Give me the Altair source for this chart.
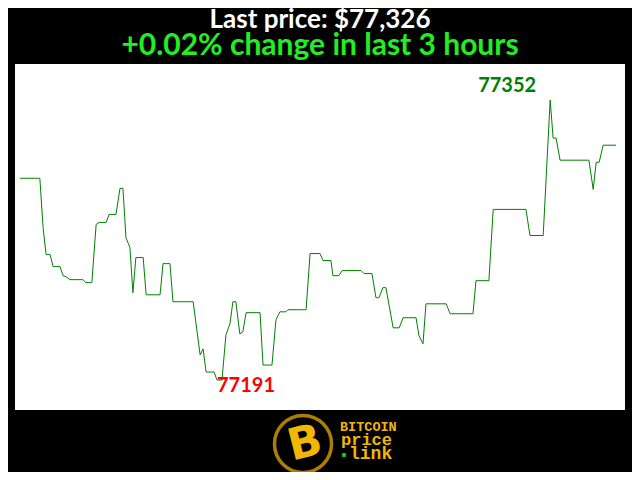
import altair as alt
import pandas as pd

# minutes since start of the 3-hour window
minutes = [0.0, 6.0, 7.0, 7.9, 9.1, 10.0, 12.1, 13.0, 13.9, 15.1,
           19.0, 19.9, 21.7, 23.0, 23.9, 26.0, 26.9, 29.0, 30.2, 31.1,
           32.0, 33.2, 34.1, 35.0, 37.2, 38.1, 42.3, 43.2, 45.3, 46.2,
           52.3, 54.4, 55.3, 56.2, 58.6, 59.5, 61.0, 62.2, 63.4, 64.3,
           65.2, 66.4, 67.3, 68.3, 72.5, 73.4, 76.1, 77.3, 78.5, 80.3,
           80.9, 86.4, 87.6, 90.6, 91.5, 93.9, 94.5, 96.3, 97.3, 103.0,
           103.9, 106.3, 107.5, 108.4, 109.6, 110.5, 112.7, 114.5, 115.7, 119.6,
           120.5, 121.7, 122.6, 128.7, 129.9, 136.8, 137.7, 141.6, 142.9, 152.8,
           154.0, 158.0, 160.1, 161.0, 161.9, 163.1, 171.8, 173.1, 174.0, 174.9,
           176.1, 180.0]

prices = [77307.0, 77307.0, 77278.1, 77263.1, 77263.1, 77256.2, 77256.2, 77251.0, 77250.4, 77248.7,
          77248.7, 77247.0, 77247.0, 77280.4, 77281.6, 77281.6, 77286.2, 77286.2, 77301.2, 77301.2,
          77272.9, 77267.2, 77241.2, 77261.4, 77261.4, 77240.0, 77240.0, 77257.9, 77257.9, 77236.0,
          77236.0, 77205.4, 77208.9, 77195.6, 77195.6, 77191.0, 77191.0, 77217.0, 77223.3, 77236.0,
          77236.0, 77217.5, 77218.7, 77229.7, 77229.7, 77199.6, 77199.6, 77225.6, 77230.2, 77230.2,
          77231.4, 77231.4, 77263.7, 77263.7, 77259.7, 77259.7, 77251.0, 77251.0, 77253.9, 77253.9,
          77252.2, 77252.2, 77238.3, 77238.3, 77244.1, 77244.1, 77221.0, 77221.0, 77226.8, 77226.8,
          77216.4, 77211.8, 77234.8, 77234.8, 77229.1, 77229.1, 77248.1, 77248.1, 77289.1, 77289.1,
          77274.1, 77274.1, 77352.0, 77330.1, 77330.1, 77317.4, 77317.4, 77300.6, 77316.2, 77316.2,
          77326.0, 77326.0]

title_text = "Last price: $77,326"
subtitle_text = "+0.02% change in last 3 hours"

df = pd.DataFrame({"t": minutes, "price": prices})
imax = df["price"].idxmax()
imin = df["price"].idxmin()
hi = df.loc[[imax]].assign(label=lambda d: d["price"].round().astype(int).astype(str))
lo = df.loc[[imin]].assign(label=lambda d: d["price"].round().astype(int).astype(str))

xs = alt.X("t:Q", axis=None, scale=alt.Scale(domain=[-1.5, 182.7], nice=False, zero=False))
ys = alt.Y("price:Q", axis=None, scale=alt.Scale(domain=[77173.75, 77372.7], nice=False, zero=False))

line = alt.Chart(df).mark_line(color="#008000", strokeWidth=1, interpolate="linear").encode(x=xs, y=ys)

hi_text = alt.Chart(hi).mark_text(
    font="Lato", fontWeight="bold", fontSize=20, color="#008000",
    align="right", baseline="alphabetic", dx=-14, dy=-8
).encode(x=xs, y=ys, text="label:N")

lo_text = alt.Chart(lo).mark_text(
    font="Lato", fontWeight="bold", fontSize=20, color="#ff0000",
    align="left", baseline="alphabetic", dx=0, dy=12
).encode(x=xs, y=ys, text="label:N")

one = pd.DataFrame({"k": [0]})
gold = "#f2b705"
ring = alt.Chart(one).mark_point(shape="circle", filled=False, size=3250, strokeWidth=3.5, color=gold).encode(
    x=alt.value(288), y=alt.value(380))
bglyph = alt.Chart(one).mark_text(text="B", font="DejaVu Sans", fontWeight="bold", fontSize=44, color=gold,
                                  angle=346, align="center", baseline="middle").encode(
    x=alt.value(290), y=alt.value(380))
t1 = alt.Chart(one).mark_text(text="BITCOIN", font="Liberation Mono", fontWeight="bold", fontSize=13.5,
                              color=gold, align="left", baseline="alphabetic").encode(
    x=alt.value(325), y=alt.value(367))
t2 = alt.Chart(one).mark_text(text="price", font="Liberation Mono", fontWeight="bold", fontSize=17,
                              color=gold, align="left", baseline="alphabetic").encode(
    x=alt.value(326), y=alt.value(381))
t3 = alt.Chart(one).mark_text(text="link", font="Liberation Mono", fontWeight="bold", fontSize=18,
                              color=gold, align="left", baseline="alphabetic").encode(
    x=alt.value(334), y=alt.value(395))
dot = alt.Chart(one).mark_square(size=14, color="#22cc22", opacity=1).encode(
    x=alt.value(329), y=alt.value(391))

chart = alt.layer(line, hi_text, lo_text, ring, bglyph, t1, t2, t3, dot).properties(
    width=610, height=346,
    padding={"left": 7, "top": 56, "right": 7, "bottom": 62},
    autosize=alt.AutoSizeParams(type="none"),
    background="#000000",
    title=alt.TitleParams(
        text=title_text, subtitle=subtitle_text,
        font="Lato", fontWeight="bold", fontSize=26, color="#ffffff",
        subtitleFont="Lato", subtitleFontWeight="bold", subtitleFontSize=30, subtitleColor="#22ee22",
        subtitlePadding=-2, anchor="middle", offset=3,
    ),
).configure_view(fill="#ffffff", stroke=None)

chart.save("out.html", embed_options={"renderer": "svg", "actions": False})
